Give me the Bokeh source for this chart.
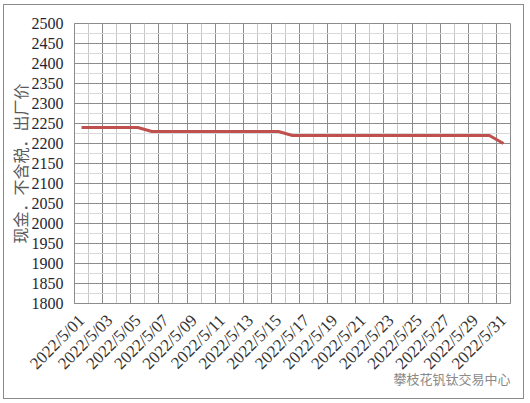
from bokeh.plotting import figure
from bokeh.models import FixedTicker, Range1d
from bokeh.embed import file_html
from bokeh.resources import INLINE

# ---- data ----
dates = ["2022/5/%02d" % d for d in range(1, 32)]
prices = [2240, 2240, 2240, 2240, 2240,
          2230, 2230, 2230, 2230, 2230, 2230, 2230, 2230, 2230, 2230,
          2220, 2220, 2220, 2220, 2220, 2220, 2220, 2220, 2220, 2220,
          2220, 2220, 2220, 2220, 2220,
          2200]
y_ticks = list(range(1800, 2501, 50))
y_label = "现金．不含税．出厂价"
watermark = "攀枝花钒钛交易中心"

xs = list(range(len(dates)))

p = figure(width=519, height=393, output_backend="svg", toolbar_location=None,
           x_range=Range1d(-0.5, len(dates) - 0.5), y_range=Range1d(1800, 2500),
           min_border_left=70, min_border_right=13, min_border_top=18, min_border_bottom=95,
           styles={"margin-left": "4px", "margin-top": "5px",
                   "outline": "1px solid #8a8a8a", "outline-offset": "0px"})
p.outline_line_color = "#8c8c8c"
p.background_fill_color = "white"
p.border_fill_color = "white"

# grids
p.xgrid.ticker = FixedTicker(ticks=[i - 0.5 for i in range(0, len(dates) + 1, 2)],
                             minor_ticks=[i - 0.5 for i in range(1, len(dates) + 1, 2)])
p.xgrid.grid_line_color = "#8c8c8c"
p.xgrid.grid_line_width = 1
p.xgrid.minor_grid_line_color = "#c8c8c8"
p.ygrid.ticker = FixedTicker(ticks=y_ticks, minor_ticks=[v + 25 for v in y_ticks[:-1]])
p.ygrid.grid_line_color = "#8c8c8c"
p.ygrid.minor_grid_line_color = "#d9d9d9"

# axes
xax = p.xaxis[0]
xax.ticker = FixedTicker(ticks=xs[::2])
xax.major_label_overrides = {i: dates[i] for i in xs}
xax.major_label_orientation = 0.785398
xax.major_label_text_font = "Liberation Serif"
xax.major_label_text_font_size = "17px"
xax.major_label_text_color = "#333333"
xax.major_label_standoff = 14
# watermark drawn as the x axis label (centred at the frame's right end, so
# ideographic spaces after it shift the visible text left), pulled up into
# the tick-label area
xax.axis_label = watermark + "\u3000" * 9
xax.axis_label_text_font = "Noto Sans CJK SC"
xax.axis_label_text_font_style = "normal"
xax.axis_label_text_font_size = "13px"
xax.axis_label_text_color = "#8a8a8a"
xax.axis_label_standoff = -14
if "axis_label_align" in xax.properties():
    xax.axis_label_align = "end"

yax = p.yaxis[0]
yax.ticker = FixedTicker(ticks=y_ticks)
yax.major_label_text_font = "Liberation Serif"
yax.major_label_text_font_size = "16px"
yax.major_label_text_color = "#1f2535"
yax.major_label_standoff = 11
yax.axis_label = y_label
yax.axis_label_text_font = "Noto Sans CJK SC"
yax.axis_label_text_font_style = "normal"
yax.axis_label_text_font_size = "16px"
yax.axis_label_text_color = "#595959"
yax.axis_label_standoff = -3
for ax in (xax, yax):
    ax.axis_line_color = "#8c8c8c"
    ax.major_tick_line_color = None
    ax.minor_tick_line_color = None
    ax.major_tick_out = 0
    ax.major_tick_in = 0
    ax.minor_tick_out = 0
    ax.minor_tick_in = 0

p.line(xs, prices, line_color="#c0504d", line_width=3)

open("out.html", "w").write(file_html(p, INLINE))
